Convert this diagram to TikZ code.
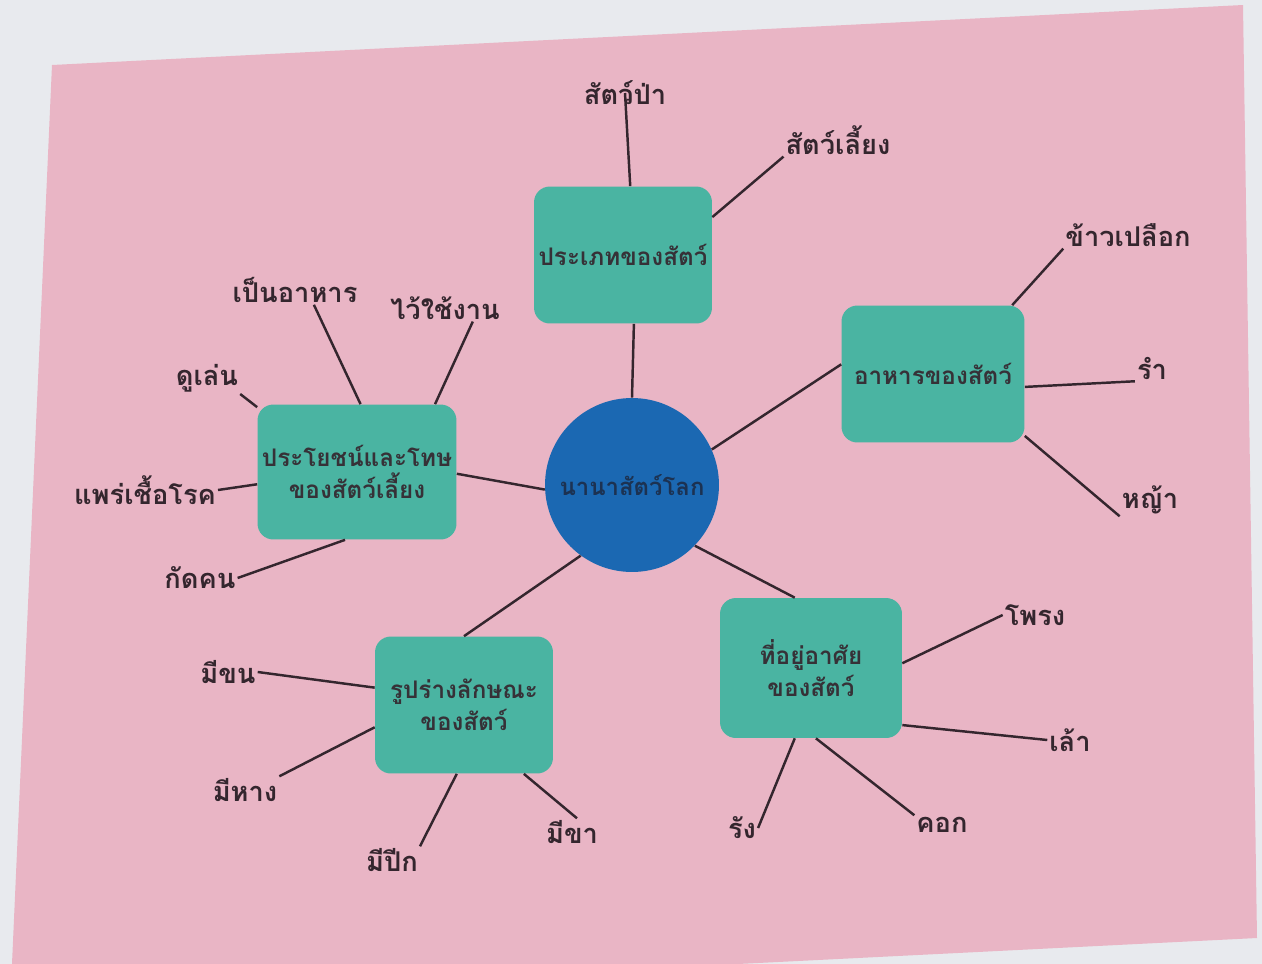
\documentclass[tikz,border=0pt]{standalone}
\usepackage{fontspec}
\newfontfamily\thaifont[Script=Thai]{Loma}
\usetikzlibrary{positioning}
\definecolor{wall}{RGB}{232,234,238}
\definecolor{sheet}{RGB}{233,181,197}
\definecolor{tealbox}{RGB}{74,180,162}
\definecolor{hubblue}{RGB}{27,104,178}
\definecolor{ink}{RGB}{52,38,46}
\definecolor{hubink}{RGB}{28,50,82}

\begin{document}
\begin{tikzpicture}[
x=0.02cm,y=-0.02cm,
hub/.style={
	circle,
	fill=hubblue,
	minimum size=3.48cm,
	inner sep=0pt,
	text=hubink,
	font=\thaifont\bfseries\fontsize{13.6}{18}\selectfont
},
topic/.style={
	fill=tealbox,
	rounded corners=9pt,
	minimum width=3.56cm,
	minimum height=2.74cm,
	inner sep=2pt,
	align=center,
	text=ink!92!tealbox,
	font=\thaifont\bfseries\fontsize{13.8}{18.5}\selectfont
},
leaf/.style={
	inner sep=1pt,
	text=ink,
	font=\thaifont\bfseries\fontsize{15.5}{19}\selectfont
},
link/.style={
	draw=ink,
	line width=1.4pt
}
]
\useasboundingbox (0,0) rectangle (1262,964);
\fill[wall] (0,0) rectangle (1262,964);
\fill[sheet] (52,65) -- (1243,5) -- (1257,938) -- (738,964) -- (12,964) -- cycle;

\node[hub] (world) at (632,485) {นานาสัตว์โลก};

\node[topic] (kind) at (623,255) {ประเภทของสัตว์};
\node[topic,minimum width=3.66cm] (food) at (933,374) {อาหารของสัตว์};
\node[topic,minimum width=3.98cm,minimum height=2.7cm] (use) at (357,472) {ประโยชน์และโทษ\\ของสัตว์เลี้ยง};
\node[topic] (form) at (464,705) {รูปร่างลักษณะ\\ของสัตว์};
\node[topic,minimum width=3.64cm,minimum height=2.8cm] (home) at (811,668) {ที่อยู่อาศัย\\ของสัตว์};

\node[leaf] (wild) at (625,93) {สัตว์ป่า};
\node[leaf] (pet) at (838,140) {สัตว์เลี้ยง};
\node[leaf] (paddy) at (1128,235) {ข้าวเปลือก};
\node[leaf] (bran) at (1152,368) {รำ};
\node[leaf] (grass) at (1150,500) {หญ้า};
\node[leaf] (eat) at (295,290) {เป็นอาหาร};
\node[leaf] (work) at (445,308) {ไว้ใช้งาน};
\node[leaf] (play) at (207,378) {ดูเล่น};
\node[leaf] (germ) at (145,490) {แพร่เชื้อโรค};
\node[leaf] (bite) at (200,578) {กัดคน};
\node[leaf] (fur) at (228,672) {มีขน};
\node[leaf] (tail) at (245,790) {มีหาง};
\node[leaf] (wing) at (392,860) {มีปีก};
\node[leaf] (leg) at (572,832) {มีขา};
\node[leaf] (hole) at (1035,615) {โพรง};
\node[leaf] (coop) at (1070,740) {เล้า};
\node[leaf] (nest) at (742,828) {รัง};
\node[leaf] (pen) at (942,825) {คอก};

\draw[link] (world.90) -- (kind.-81);
\draw[link] (world.24) -- (food.174);
\draw[link] (world.183) -- (use.-1);
\draw[link] (world.234) -- (form.90);
\draw[link] (world.-44) -- (home.103);

\draw[link] (kind.84) -- (wild.center);
\draw[link] (kind.23) -- (pet.south west);

\draw[link] (food.41) -- (paddy.south west);
\draw[link] (food.-8) -- (bran.south west);
\draw[link] (food.-34) -- (grass.south west);

\draw[link] (use.87) -- (eat.-38);
\draw[link] (use.41) -- (work.-26);
\draw[link] (use.147) -- (play.south east);
\draw[link] (use.187) -- (germ.east);
\draw[link] (use.260) -- (bite.east);

\draw[link] (form.169) -- (fur.east);
\draw[link] (form.194) -- (tail.north east);
\draw[link] (form.264) -- (wing.north east);
\draw[link] (form.-49) -- (leg.70);

\draw[link] (home.3) -- (hole.west);
\draw[link] (home.-32) -- (coop.west);
\draw[link] (home.257) -- (nest.east);
\draw[link] (home.274) -- (pen.north west);

\end{tikzpicture}
\end{document}
